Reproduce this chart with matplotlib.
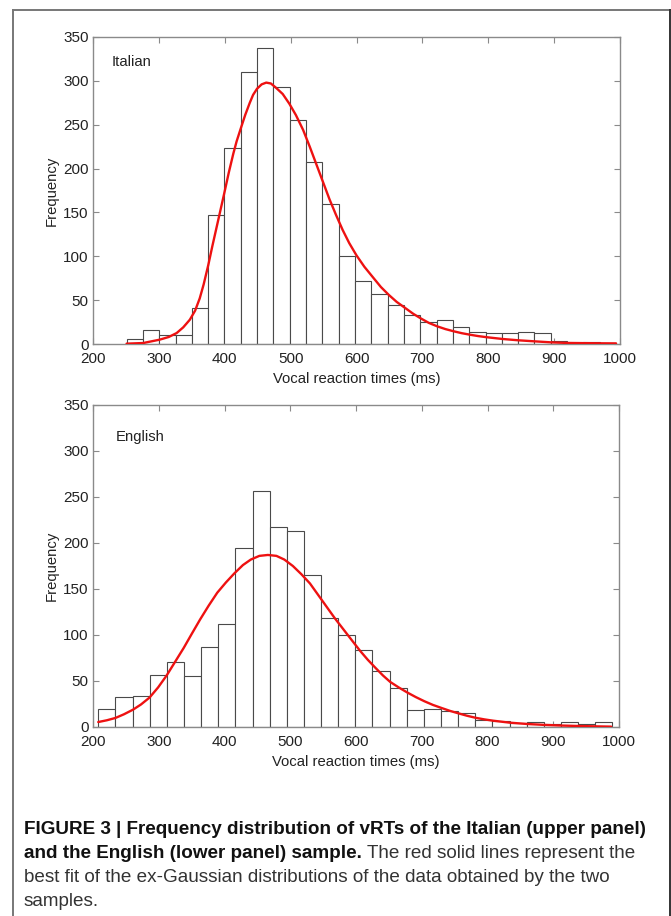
import numpy as np
import matplotlib
matplotlib.use('Agg')
import matplotlib.pyplot as plt
from matplotlib.lines import Line2D

plt.rcParams['font.family'] = ['Liberation Sans', 'DejaVu Sans']

# ---- Italian sample (upper panel): 30 equal bins between first/last edge
it_lo, it_hi = 251, 994
it_counts = [6, 16, 10, 10, 41, 147, 224, 310, 337, 293,
             255, 208, 160, 100, 72, 57, 44, 33, 25, 27,
             19, 14, 12, 12, 14, 12, 3, 1, 2, 1]
# ex-Gaussian fit
it_fit_x = [251, 276, 301, 315, 327, 337, 347, 355, 362, 368, 375, 381, 387,
            393, 399, 406, 413, 418, 424, 431, 438, 443, 449, 456, 463, 470,
            478, 488, 498, 508, 519, 529, 539, 549, 559, 569, 579, 589, 600,
            612, 625, 637, 649, 661, 674, 686, 698, 710, 723, 735, 748, 760,
            773, 785, 797, 810, 822, 846, 871, 895, 920, 944, 969, 994]
it_fit_y = [0.4, 1.1, 4.9, 8, 12.5, 19, 27.7, 38, 52, 68, 90, 111, 131,
            151, 171, 195, 217, 231, 245, 261, 275, 284, 291, 296, 298, 297,
            292, 285, 274, 261, 244, 225, 205, 185, 165, 147, 130, 115, 101,
            88, 76, 65, 56, 48, 41, 34.5, 29, 24, 20, 17, 14.4, 12.3,
            10.5, 9, 7.8, 6.7, 5.7, 4.2, 3, 1.9, 1.2, 1, 0.8, 0.7]

# ---- English sample (lower panel)
en_lo, en_hi = 208, 990
en_counts = [20, 33, 34, 57, 71, 55, 87, 112, 195, 257,
             217, 213, 165, 119, 100, 84, 61, 42, 19, 20,
             17, 15, 8, 6, 4, 5, 3, 5, 3, 5]
en_fit_x = [208, 221, 234, 247, 261, 273, 286, 299, 312, 325, 338, 350, 363,
            376, 389, 402, 415, 428, 440, 453, 466, 479, 491, 504, 517, 530,
            542, 555, 568, 581, 594, 606, 618, 630, 641, 652, 665, 678, 691,
            704, 717, 730, 743, 756, 769, 782, 795, 808, 834, 860, 886, 912,
            938, 964, 988]
en_fit_y = [5.4, 7.3, 9.8, 13.8, 18.9, 24.5, 32, 43, 56, 71, 86, 101, 117,
            132, 146, 157, 167, 176, 182, 186, 187, 186, 182, 175, 166, 156,
            144, 131, 118, 106, 94, 83, 73, 64, 56, 49, 43, 37.5, 32.5,
            28, 24, 20.7, 17.5, 14.8, 12.2, 10, 8.3, 6.9, 4.7, 3.3, 2.3, 1.6,
            1.1, 0.7, 0.4]

xticks = [200, 300, 400, 500, 600, 700, 800, 900, 1000]
yticks = [0, 50, 100, 150, 200, 250, 300, 350]
xlabel = 'Vocal reaction times (ms)'
ylabel = 'Frequency'

W, H = 671, 916
fig = plt.figure(figsize=(W/100, H/100), dpi=100)

def px_axes(l, t, r, b):
    return fig.add_axes([l/W, 1 - b/H, (r-l)/W, (b-t)/H])

spine_col = '#8a8a8a'
text_col = '#222222'

def panel(ax, lo, hi, counts, fx, fy, name, name_xy):
    edges = np.linspace(lo, hi, len(counts) + 1)
    ax.bar(edges[:-1], counts, width=np.diff(edges), align='edge',
           facecolor='white', edgecolor='#4a4a4a', linewidth=0.8, zorder=2)
    ax.plot(fx, fy, color='#ee1111', lw=1.7, zorder=3,
            solid_capstyle='round', solid_joinstyle='round')
    ax.set_xlim(200, 1000)
    ax.set_ylim(0, 350)
    ax.set_xticks(xticks)
    ax.set_yticks(yticks)
    ax.tick_params(direction='in', top=True, right=True, length=4,
                   width=0.8, color=spine_col, labelsize=11,
                   labelcolor=text_col)
    ax.tick_params(axis='x', pad=6)
    ax.tick_params(axis='y', pad=3)
    for s in ax.spines.values():
        s.set_color(spine_col)
        s.set_linewidth(1.0)
    ax.set_xlabel(xlabel, fontsize=10.7, color=text_col, labelpad=4)
    ax.set_ylabel(ylabel, fontsize=10.7, color=text_col, labelpad=3)
    ax.text(name_xy[0], name_xy[1], name, fontsize=10.7, color=text_col,
            ha='left', va='center')

ax1 = px_axes(93, 37, 620, 344)
panel(ax1, it_lo, it_hi, it_counts, it_fit_x, it_fit_y, 'Italian', (228, 321))
ax2 = px_axes(93, 405, 619, 727)
panel(ax2, en_lo, en_hi, en_counts, en_fit_x, en_fit_y, 'English', (235, 315))

# outer frame (left, top, right; open at the bottom)
frame_col = '#777777'
fig.add_artist(Line2D([12.5/W, 12.5/W], [0, 1 - 10/H], transform=fig.transFigure,
                      color=frame_col, lw=1.4))
fig.add_artist(Line2D([12.5/W, 669.5/W], [1 - 10/H, 1 - 10/H], transform=fig.transFigure,
                      color=frame_col, lw=1.4))
fig.add_artist(Line2D([669.5/W, 669.5/W], [0, 1 - 10/H], transform=fig.transFigure,
                      color='#333333', lw=1.4))

# caption
cap_font = ['Liberation Sans', 'DejaVu Sans']
cap_size = 13.6
cap_bold = ['FIGURE 3 | Frequency distribution of vRTs of the Italian (upper panel)',
            'and the English (lower panel) sample.']
cap_reg = ['The red solid lines represent the',
           'best fit of the ex-Gaussian distributions of the data obtained by the two',
           'samples.']
line_y = [829, 853, 878, 902]
x0 = 24 / W
fig.text(x0, 1 - line_y[0]/H, cap_bold[0], family=cap_font, fontsize=cap_size,
         weight='bold', va='center', color='#111111')
t = fig.text(x0, 1 - line_y[1]/H, cap_bold[1], family=cap_font, fontsize=cap_size,
             weight='bold', va='center', color='#111111')
r = fig.canvas.get_renderer()
bb = t.get_window_extent(renderer=r)
fig.text((bb.x1 + 5) / W, 1 - line_y[1]/H, cap_reg[0], family=cap_font,
         fontsize=cap_size, va='center', color='#333333')
fig.text(x0, 1 - line_y[2]/H, cap_reg[1], family=cap_font, fontsize=cap_size,
         va='center', color='#333333')
fig.text(x0, 1 - line_y[3]/H, cap_reg[2], family=cap_font, fontsize=cap_size,
         va='center', color='#333333')

fig.savefig('out.png', dpi=100)
